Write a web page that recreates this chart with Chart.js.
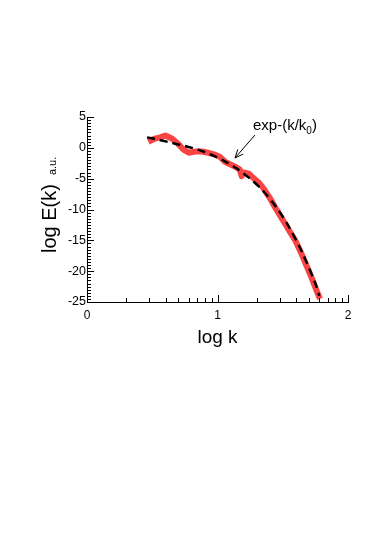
<!DOCTYPE html>
<html>
<head>
<meta charset="utf-8">
<script src="https://cdn.jsdelivr.net/npm/chart.js@4"></script>
<style>
  body { margin: 0; background: #fff; }
  #wrap { width: 374px; height: 536px; }
</style>
</head>
<body>
<div id="wrap"><canvas id="spectrum" width="374" height="536"></canvas></div>
<script>
// measured spectrum (red) and fitted exp-(k/k0) (dashed), log-log
const measuredX = [0.47, 0.52, 0.56, 0.60, 0.65, 0.70, 0.74, 0.78, 0.83, 0.88, 0.93, 0.98, 1.02, 1.06, 1.10, 1.14, 1.17, 1.185, 1.20, 1.24, 1.28, 1.32, 1.36, 1.40, 1.44, 1.48, 1.52, 1.56, 1.60, 1.64, 1.68, 1.72, 1.76, 1.785];
const measuredY = [1.0, 1.5, 1.7, 2.0, 1.5, 0.6, -0.3, -0.8, -0.6, -0.6, -0.8, -1.1, -1.5, -2.3, -2.7, -3.1, -3.5, -4.6, -4.0, -4.2, -5.0, -5.7, -6.8, -8.1, -9.6, -11.0, -12.4, -13.8, -15.2, -17.0, -19.0, -21.0, -23.2, -24.5];
const fitX = [0.46, 0.55, 0.65, 0.75, 0.85, 0.95, 1.05, 1.15, 1.25, 1.35, 1.45, 1.55, 1.65, 1.75, 1.78];
const fitY = [1.7, 1.3, 0.8, 0.3, -0.3, -1.1, -2.1, -3.4, -5.0, -7.0, -9.6, -12.9, -17.0, -22.0, -24.0];

const xMajor = [0, 1, 2];
const yMajor = [-25, -20, -15, -10, -5, 0, 5];
const annotation = 'exp-(k/k';

function toPoints(xs, ys) {
    return xs.map((x, i) => ({ x: x, y: ys[i] }));
}

// minor ticks: log spacing on x, every 0.5 on y
function xMinorTicks() {
    const out = [];
    for (let d = 0; d < 2; d++) {
        for (let n = 2; n <= 9; n++) out.push(d + Math.log10(n));
    }
    return out;
}
function yMinorTicks() {
    const out = [];
    for (let v = -25; v <= 5; v += 0.5) out.push(v);
    return out;
}

const FONT = '"Liberation Sans", Arial, sans-serif';

const decorations = {
    id: 'decorations',
    afterDraw(chart) {
        const ctx = chart.ctx;
        const xs = chart.scales.x, ys = chart.scales.y;
        const area = chart.chartArea;
        ctx.save();
        ctx.strokeStyle = '#000';
        ctx.lineWidth = 1;

        // inward ticks
        ctx.beginPath();
        xMinorTicks().forEach(v => {
            const px = Math.round(xs.getPixelForValue(v)) + 0.5;
            ctx.moveTo(px, area.bottom);
            ctx.lineTo(px, area.bottom - 4);
        });
        xMajor.forEach(v => {
            const px = Math.round(xs.getPixelForValue(v)) + 0.5;
            ctx.moveTo(px, area.bottom);
            ctx.lineTo(px, area.bottom - 7);
        });
        yMinorTicks().forEach(v => {
            const py = Math.round(ys.getPixelForValue(v)) + 0.5;
            const len = v % 5 === 0 ? 7 : 4;
            ctx.moveTo(area.left, py);
            ctx.lineTo(area.left + len, py);
        });
        ctx.stroke();

        // axis titles
        ctx.fillStyle = '#000';
        ctx.font = '19px ' + FONT;
        ctx.textAlign = 'center';
        ctx.textBaseline = 'alphabetic';
        ctx.fillText('log k', (area.left + area.right) / 2, area.bottom + 41);

        ctx.save();
        ctx.translate(area.left - 31, area.bottom - 49);
        ctx.rotate(-Math.PI / 2);
        ctx.textAlign = 'left';
        ctx.font = '20px ' + FONT;
        ctx.fillText('log E(k)', 0, 0);
        const w = ctx.measureText('log E(k)').width;
        ctx.font = '11px ' + FONT;
        ctx.fillText('a.u.', w + 9, 0);
        ctx.restore();

        // annotation with arrow
        const tx = xs.getPixelForValue(1.272), ty = ys.getPixelForValue(2.9);
        ctx.textAlign = 'left';
        ctx.font = '15px ' + FONT;
        ctx.fillText(annotation, tx, ty);
        let w2 = ctx.measureText(annotation).width;
        ctx.font = '10px ' + FONT;
        ctx.fillText('0', tx + w2, ty + 4);
        w2 += ctx.measureText('0').width;
        ctx.font = '15px ' + FONT;
        ctx.fillText(')', tx + w2, ty);

        const ax = xs.getPixelForValue(1.287), ay = ys.getPixelForValue(2.08);
        const bx = xs.getPixelForValue(1.134), by = ys.getPixelForValue(-1.65);
        ctx.beginPath();
        ctx.moveTo(ax, ay);
        ctx.lineTo(bx, by);
        const ang = Math.atan2(by - ay, bx - ax);
        ctx.moveTo(bx - 9 * Math.cos(ang - 0.4), by - 9 * Math.sin(ang - 0.4));
        ctx.lineTo(bx, by);
        ctx.lineTo(bx - 9 * Math.cos(ang + 0.4), by - 9 * Math.sin(ang + 0.4));
        ctx.stroke();
        ctx.restore();
    }
};

new Chart(document.getElementById('spectrum'), {
    type: 'line',
    data: {
        datasets: [
            {
                data: toPoints(fitX, fitY),
                borderColor: '#000',
                borderWidth: 2.5,
                borderDash: [8, 5],
                pointRadius: 0,
                tension: 0.3,
                fill: false
            },
            {
                data: toPoints(measuredX, measuredY),
                borderColor: 'rgb(250, 68, 68)',
                borderWidth: 6,
                pointRadius: 0,
                tension: 0,
                borderJoinStyle: 'round',
                fill: false
            }
        ]
    },
    options: {
        responsive: false,
        animation: false,
        layout: { padding: { top: 117, right: 26, left: 0, bottom: 204 } },
        plugins: { legend: { display: false }, tooltip: { enabled: false } },
        scales: {
            x: {
                type: 'linear',
                min: 0,
                max: 2,
                afterBuildTicks: scale => { scale.ticks = xMajor.map(v => ({ value: v })); },
                afterFit: scale => { scale.height = 30; },
                grid: { drawOnChartArea: false, drawTicks: false },
                border: { display: true, color: '#000', width: 1 },
                ticks: { color: '#000', font: { size: 12, family: FONT }, padding: 6, maxRotation: 0 }
            },
            y: {
                type: 'linear',
                min: -25,
                max: 5,
                afterBuildTicks: scale => { scale.ticks = yMajor.map(v => ({ value: v })); },
                afterFit: scale => { scale.width = 87; },
                grid: { drawOnChartArea: false, drawTicks: false },
                border: { display: true, color: '#000', width: 1 },
                ticks: { color: '#000', font: { size: 12.5, family: FONT }, padding: 1 }
            }
        }
    },
    plugins: [decorations]
});
</script>
</body>
</html>
